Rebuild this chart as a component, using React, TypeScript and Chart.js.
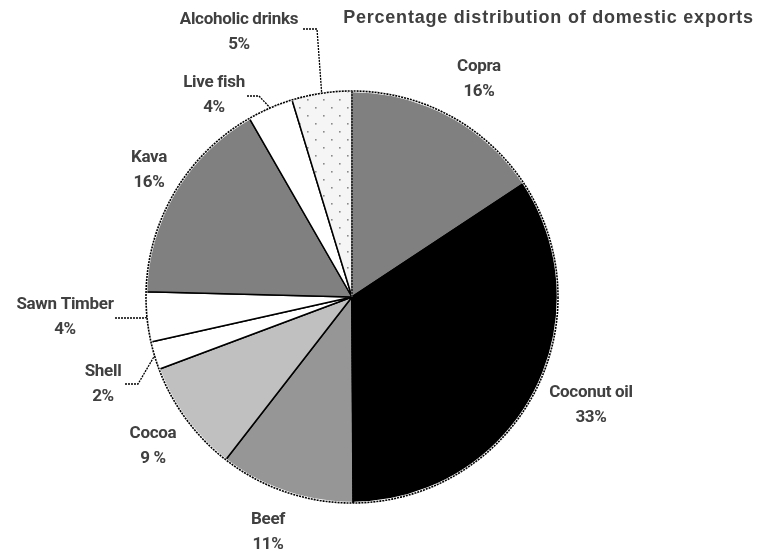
import React, { useEffect, useRef } from "react";
import { Chart, registerables } from "chart.js";

Chart.register(...registerables);

const categories = ["Copra", "Coconut oil", "Beef", "Cocoa", "Shell", "Sawn Timber", "Kava", "Live fish", "Alcoholic drinks"];
const shares = [15.7, 34.2, 10.6, 8.8, 2.2, 3.9, 16.3, 3.6, 4.7];
const percentLabels = ["16%", "33%", "11%", "9 %", "2%", "4%", "16%", "4%", "5%"];
const titleText = "Percentage distribution of domestic exports";

const fillColors = ["#808080", "#000000", "#969696", "#c0c0c0", "#ffffff", "#ffffff", "#808080", "#ffffff", "PATTERN"];
// label centre positions (name line), in px
const labelPos: [number, number][] = [
  [479, 67], [591, 393], [268, 520], [153, 434], [103, 372], [65, 305], [149, 158], [214, 83], [239, 20],
];
// leader elbows (null = no leader)
const leaderElbows: ([number, number][] | null)[] = [
  null, null, null, null,
  [[125, 384], [138, 384]],
  [[115, 318], [145, 318]],
  null,
  [[247, 96], [259, 96]],
  [[303, 29], [317, 29]],
];

function makePattern(): CanvasPattern | string {
  const c = document.createElement("canvas");
  c.width = 16; c.height = 16;
  const g = c.getContext("2d");
  if (!g) return "#f4f4f4";
  g.fillStyle = "#f5f5f5";
  g.fillRect(0, 0, 16, 16);
  g.fillStyle = "#8a8a8a";
  g.fillRect(3, 3, 1.6, 1.6);
  g.fillRect(11, 11, 1.6, 1.6);
  const p = g.createPattern(c, "repeat");
  return p || "#f4f4f4";
}

const overlayPlugin = {
  id: "overlay",
  afterDatasetsDraw(chart: any) {
    const ctx = chart.ctx;
    const meta = chart.getDatasetMeta(0);
    const arcs = meta.data;
    if (!arcs.length) return;
    const cx = arcs[0].x, cy = arcs[0].y, r = arcs[0].outerRadius;
    ctx.save();
    // dotted outline
    ctx.beginPath();
    ctx.arc(cx, cy, r, 0, Math.PI * 2);
    ctx.strokeStyle = "#ffffff";
    ctx.lineWidth = 2.5;
    ctx.stroke();
    ctx.setLineDash([2, 1]);
    ctx.strokeStyle = "#000000";
    ctx.lineWidth = 1.6;
    ctx.stroke();
    // dotted radial lines at top and at Coconut oil / Beef boundary
    const dotted = [arcs[0].startAngle, arcs[1].endAngle];
    dotted.forEach((a: number, k: number) => {
      ctx.beginPath();
      ctx.moveTo(cx, cy);
      ctx.lineTo(cx + r * Math.cos(a), cy + r * Math.sin(a));
      ctx.setLineDash([]);
      ctx.strokeStyle = k === 0 ? "#808080" : "#000000";
      ctx.lineWidth = 2;
      ctx.stroke();
      ctx.setLineDash([2, 1]);
      ctx.strokeStyle = "#000000";
      ctx.lineWidth = 1.2;
      ctx.stroke();
    });
    // leaders
    ctx.setLineDash([2, 1]);
    ctx.lineWidth = 1.3;
    ctx.strokeStyle = "#000000";
    arcs.forEach((arc: any, i: number) => {
      const el = leaderElbows[i];
      if (!el) return;
      const mid = (arc.startAngle + arc.endAngle) / 2;
      const ex = cx + r * Math.cos(mid), ey = cy + r * Math.sin(mid);
      ctx.beginPath();
      ctx.moveTo(el[0][0], el[0][1]);
      for (let k = 1; k < el.length; k++) ctx.lineTo(el[k][0], el[k][1]);
      ctx.lineTo(ex, ey);
      ctx.stroke();
    });
    ctx.setLineDash([]);
    // labels
    ctx.fillStyle = "#404040";
    ctx.textAlign = "center";
    ctx.textBaseline = "middle";
    ctx.font = "bold 17px Roboto";
    (ctx as any).letterSpacing = "-0.3px";
    categories.forEach((name, i) => {
      const [x, y] = labelPos[i];
      ctx.fillText(name, x, y);
      ctx.fillText(percentLabels[i], x, y + 25);
    });
    // title, fitted to its span in the reference
    ctx.textAlign = "right";
    ctx.textBaseline = "alphabetic";
    ctx.font = "bold 18px 'Liberation Sans', Arial, sans-serif";
    (ctx as any).letterSpacing = "0px";
    const w = ctx.measureText(titleText).width;
    const target = 410;
    const ls = Math.max(0, (target - w) / (titleText.length - 1));
    (ctx as any).letterSpacing = ls.toFixed(2) + "px";
    ctx.fillText(titleText, 753 + ls, 23);
    (ctx as any).letterSpacing = "0px";
    ctx.restore();
  },
};

export default function App() {
  const ref = useRef<HTMLCanvasElement | null>(null);
  useEffect(() => {
    if (!ref.current) return;
    const pattern = makePattern();
    const colors = fillColors.map((c) => (c === "PATTERN" ? pattern : c));
    const chart = new Chart(ref.current, {
      type: "pie",
      data: {
        labels: categories,
        datasets: [
          {
            data: shares,
            backgroundColor: colors as any,
            borderColor: "#000000",
            borderWidth: 1.5,
            hoverOffset: 0,
          } as any,
        ],
      },
      options: {
        animation: false,
        responsive: false,
        maintainAspectRatio: false,
        radius: 206,
        layout: { padding: { left: 146, top: 91, right: 203, bottom: 51 } },
        plugins: { legend: { display: false }, tooltip: { enabled: false }, title: { display: false } },
        events: [],
      } as any,
      plugins: [overlayPlugin],
    });
    return () => chart.destroy();
  }, []);
  return (
    <div style={{ position: "fixed", left: 0, top: 0, width: 761, height: 554, background: "#ffffff" }}>
      <canvas ref={ref} width={761} height={554} style={{ width: 761, height: 554, display: "block" }} />
    </div>
  );
}
